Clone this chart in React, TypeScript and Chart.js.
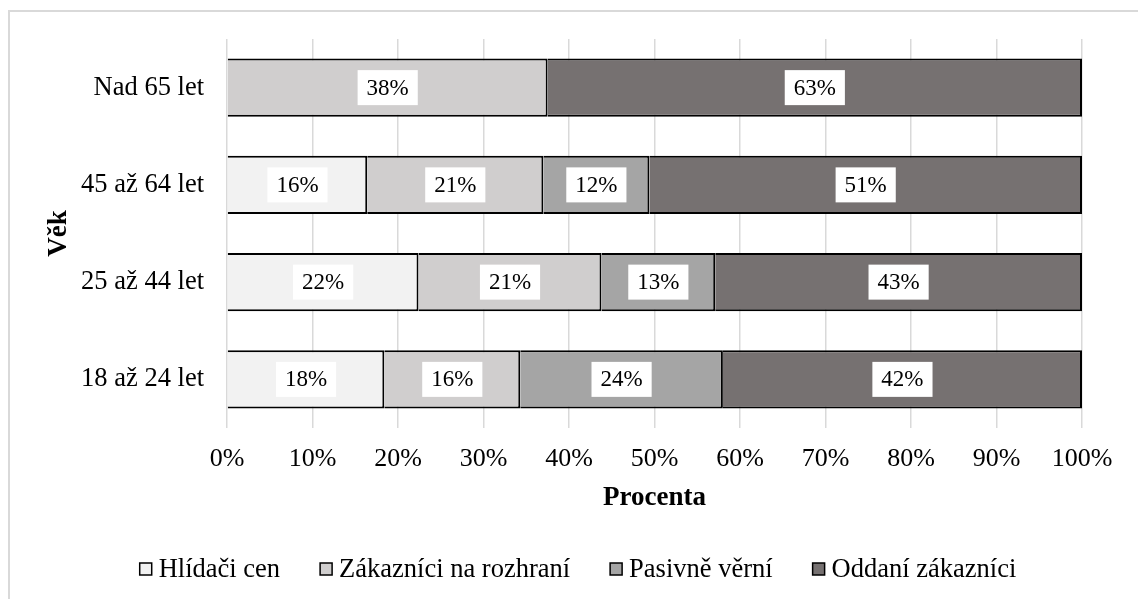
import React, { useEffect, useRef } from 'react';
import { Chart, registerables } from 'chart.js';

Chart.register(...registerables);

// ---- data ----
const categories = ['Nad 65 let', '45 až 64 let', '25 až 44 let', '18 až 24 let'];
const seriesNames = ['Hlídači cen', 'Zákazníci na rozhraní', 'Pasivně věrní', 'Oddaní zákazníci'];
const hlidaciCen = [0, 16.4, 22.4, 18.4];
const zakazniciNaRozhrani = [37.5, 20.6, 21.4, 15.9];
const pasivneVerni = [0, 12.4, 13.3, 23.7];
const oddaniZakaznici = [62.5, 50.6, 42.9, 42.0];
const seriesColors = ['#F2F2F2', '#D0CECE', '#A5A5A5', '#767171'];
const xAxisTitle = 'Procenta';
const yAxisTitle = 'Věk';

const SERIF = "'Liberation Serif', 'Times New Roman', serif";

const framePlugin = {
  id: 'frame',
  beforeDraw(chart: any) {
    const ctx = chart.ctx;
    ctx.save();
    ctx.fillStyle = '#ffffff';
    ctx.fillRect(0, 0, chart.width, chart.height);
    ctx.strokeStyle = '#D9D9D9';
    ctx.lineWidth = 2;
    ctx.beginPath();
    ctx.moveTo(9, chart.height + 2);
    ctx.lineTo(9, 11);
    ctx.lineTo(chart.width + 2, 11);
    ctx.stroke();
    ctx.restore();
  },
};

const dataLabelPlugin = {
  id: 'boxLabels',
  afterDatasetsDraw(chart: any) {
    const ctx = chart.ctx;
    ctx.save();
    ctx.font = `23px ${SERIF}`;
    ctx.textAlign = 'center';
    ctx.textBaseline = 'middle';
    chart.data.datasets.forEach((ds: any, di: number) => {
      const meta = chart.getDatasetMeta(di);
      meta.data.forEach((el: any, i: number) => {
        const v = ds.data[i];
        if (!v) return;
        const { x, base, y } = el.getProps(['x', 'base', 'y'], true);
        const cx = (x + base) / 2;
        const txt = Math.round(v) + '%';
        const w = ctx.measureText(txt).width + 18;
        const h = 35;
        ctx.fillStyle = '#ffffff';
        ctx.fillRect(cx - w / 2, y - h / 2, w, h);
        ctx.fillStyle = '#000000';
        ctx.fillText(txt, cx, y + 1);
      });
    });
    ctx.restore();
  },
};

const legendPlugin = {
  id: 'customLegend',
  afterDraw(chart: any) {
    const ctx = chart.ctx;
    ctx.save();
    ctx.font = `26.5px ${SERIF}`;
    ctx.textBaseline = 'middle';
    ctx.textAlign = 'left';
    const box = 12;
    const gap = 7;
    const spacing = 40;
    const items = chart.data.datasets.map((ds: any) => ({
      label: ds.label,
      color: ds.backgroundColor,
      w: box + gap + ctx.measureText(ds.label).width,
    }));
    const total = items.reduce((s: number, it: any) => s + it.w, 0) + spacing * (items.length - 1);
    let x = 578 - total / 2;
    const cy = 569;
    items.forEach((it: any) => {
      ctx.fillStyle = it.color;
      ctx.fillRect(x, cy - box / 2, box, box);
      ctx.strokeStyle = '#000000';
      ctx.lineWidth = 1.5;
      ctx.strokeRect(x, cy - box / 2, box, box);
      ctx.fillStyle = '#000000';
      ctx.fillText(it.label, x + box + gap, cy + 1);
      x += it.w + spacing;
    });
    ctx.restore();
  },
};

export default function App() {
  const ref = useRef<HTMLCanvasElement | null>(null);

  useEffect(() => {
    if (!ref.current) return;
    const seriesData = [hlidaciCen, zakazniciNaRozhrani, pasivneVerni, oddaniZakaznici];
    const chart = new Chart(ref.current, {
      type: 'bar',
      data: {
        labels: categories,
        datasets: seriesNames.map((name, i) => ({
          label: name,
          data: seriesData[i],
          backgroundColor: seriesColors[i],
          borderColor: '#000000',
          borderWidth: 2,
          barPercentage: 0.6,
          categoryPercentage: 1,
        })),
      },
      options: {
        indexAxis: 'y',
        responsive: false,
        animation: false,
        devicePixelRatio: 1,
        layout: { padding: { left: 0, top: 39, right: 56, bottom: 85 } },
        plugins: {
          legend: { display: false },
          tooltip: { enabled: false },
        },
        scales: {
          x: {
            stacked: true,
            min: 0,
            max: 100,
            ticks: {
              stepSize: 10,
              padding: 16,
              color: '#000000',
              font: { family: SERIF, size: 26 },
              callback: (v: any) => v + '%',
            },
            grid: { color: '#D9D9D9', lineWidth: 1.5, drawTicks: false },
            border: { display: false },
            title: {
              display: true,
              text: xAxisTitle,
              color: '#000000',
              font: { family: SERIF, size: 27, weight: 'bold' },
              padding: 0,
            },
            afterFit: (s: any) => { s.height = 86; },
          },
          y: {
            stacked: true,
            ticks: {
              padding: 23,
              color: '#000000',
              font: { family: SERIF, size: 26.5 },
            },
            grid: { display: false, drawTicks: false },
            border: { display: false },
            title: {
              display: true,
              text: yAxisTitle,
              color: '#000000',
              font: { family: SERIF, size: 27, weight: 'bold' },
              padding: { top: 43, bottom: 0 },
            },
            afterFit: (s: any) => { s.width = 227; },
          },
        },
      },
      plugins: [framePlugin, dataLabelPlugin, legendPlugin],
    });
    return () => chart.destroy();
  }, []);

  return (
    <div style={{ position: 'fixed', left: 0, top: 0, width: 1138, height: 599, background: '#fff' }}>
      <canvas ref={ref} width={1138} height={599} style={{ display: 'block' }} />
    </div>
  );
}
